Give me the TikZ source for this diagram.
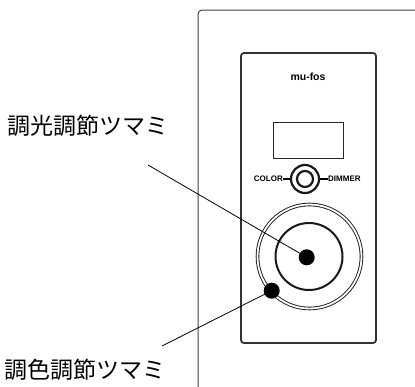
\documentclass[tikz,border=0pt]{standalone}
\usepackage{fontspec}
\setsansfont{Liberation Sans}
\newfontfamily\jp{Noto Sans CJK JP}
\usetikzlibrary{positioning}

\begin{document}
\begin{tikzpicture}[x=1pt,y=-1pt,
    label/.style={inner sep=0pt,font=\jp\fontsize{23}{24}\selectfont},
    knobdot/.style={circle,fill=black,inner sep=0pt,minimum size=16pt},
    ring/.style={circle,draw=black!90,inner sep=0pt},
    logo/.style={inner sep=0pt,font=\sffamily\bfseries\fontsize{8}{9}\selectfont}]
  \useasboundingbox (0,0) rectangle (415,386);
  % panel and plate
  \draw[black!75,line width=1pt,rounded corners=4pt] (198,400) |- (430,10);
  \draw[black!80,line width=1.8pt,rounded corners=3pt] (241,53) rectangle (376,343);
  \node[inner sep=0pt,font=\sffamily\bfseries\fontsize{10.5}{11}\selectfont] (brand) at (308,77) {mu-fos};
  \draw[black!85,line width=1pt] (273,122) rectangle (343,158);
  % mode switch
  \node[ring,line width=2.2pt,minimum size=28pt] (mode) at (305,179) {};
  \node[ring,line width=2.2pt,minimum size=16pt] at (mode) {};
  \node[logo,anchor=east] (color) at (283,179) {COLOR};
  \node[logo,anchor=west] (dimmer) at (328,179) {DIMMER};
  \draw[line width=1.4pt] (color.east) -- (mode.west);
  \draw[line width=1.4pt] (mode.east) -- (dimmer.west);
  % knobs
  \node[ring,line width=0.9pt,double=white,double distance=1.8pt,minimum size=104pt] (outer) at (309.5,256.5) {};
  \node[ring,line width=2pt,minimum size=67pt] (inner) at (309,256.5) {};
  \node[knobdot] (dimdot) at (306.7,257.3) {};
  \node[knobdot] (coldot) at (271.7,290.7) {};
  % labels
  \node[label] (dimlabel) at (88,126) {調光調節ツマミ};
  \node[label] (collabel) at (85,370) {調色調節ツマミ};
  \coordinate (dimend) at (148,165);
  \coordinate (colend) at (162,346);
  \draw[line width=0.8pt] (dimend) -- (dimdot.center);
  \draw[line width=0.8pt] (colend) -- (coldot.center);
\end{tikzpicture}
\end{document}
